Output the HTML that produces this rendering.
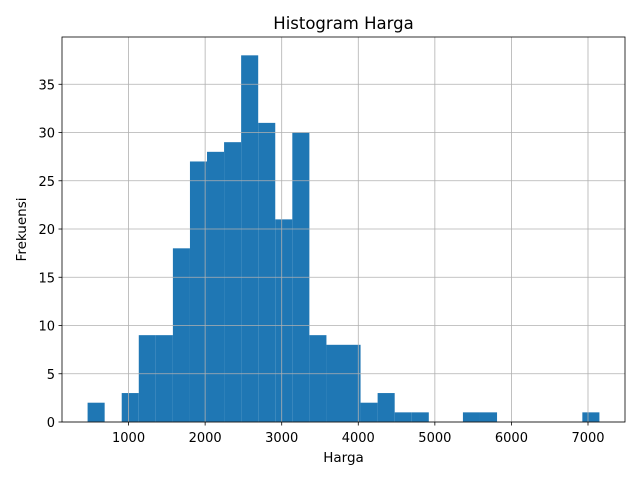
<!DOCTYPE html>
<html><head><meta charset="utf-8"><style>
body{margin:0;background:#fff;}
svg text{font-family:"DejaVu Sans","Liberation Sans",sans-serif;fill:#000;}
</style></head><body>
<svg id="chart" width="640" height="480" xmlns="http://www.w3.org/2000/svg">
<rect width="640" height="480" fill="#fff"/>
<g id="bars"></g>
<g id="grid"></g>
<g id="axes"></g>
<text x="343.5" y="29" font-size="16.5" text-anchor="middle">Histogram Harga</text>
<text x="343.5" y="462" font-size="13.5" text-anchor="middle">Harga</text>
<text x="26" y="229.5" font-size="13.5" text-anchor="middle" transform="rotate(-90 26 229.5)">Frekuensi</text>
</svg>
<script>
const binStart = 465;
const binWidth = 222.8;
const counts = [2,0,3,9,9,18,27,28,29,38,31,21,30,9,8,8,2,3,1,1,0,0,1,1,0,0,0,0,0,1];
const xTicks = [1000,2000,3000,4000,5000,6000,7000];
const yTicks = [0,5,10,15,20,25,30,35];

const L=62,R=625,T=37,B=422;
const xmin=binStart-0.05*binWidth*counts.length, xmax=binStart+1.05*binWidth*counts.length;
const ymax=Math.max(...counts)*1.05;
const xs=v=>L+(v-xmin)/(xmax-xmin)*(R-L);
const ys=v=>B-v/ymax*(B-T);
const NS="http://www.w3.org/2000/svg";
function mk(tag,attrs,parent){const e=document.createElementNS(NS,tag);for(const k in attrs)e.setAttribute(k,attrs[k]);parent.appendChild(e);return e;}
const bars=document.getElementById('bars'),grid=document.getElementById('grid'),axes=document.getElementById('axes');
counts.forEach((c,i)=>{
  if(c<=0)return;
  const x0=xs(binStart+i*binWidth),x1=xs(binStart+(i+1)*binWidth);
  const r=mk('rect',{x:x0,y:ys(c),width:x1-x0,height:B-ys(c),fill:'#1f77b4'},bars);
  
  
});
xTicks.forEach(t=>{
  const x=xs(t);
  const g=mk('line',{x1:x,x2:x,y1:T,y2:B,stroke:'#b0b0b0','stroke-width':0.8},grid);
  
  
  mk('line',{x1:x,x2:x,y1:B,y2:B+3.5,stroke:'#000','stroke-width':0.8},axes);
  const tx=mk('text',{x:x,y:B+20,'font-size':13,'text-anchor':'middle'},axes);
  tx.textContent=t;
  
  
});
yTicks.forEach(t=>{
  const y=ys(t);
  const g=mk('line',{x1:L,x2:R,y1:y,y2:y,stroke:'#b0b0b0','stroke-width':0.8},grid);
  
  
  mk('line',{x1:L-3.5,x2:L,y1:y,y2:y,stroke:'#000','stroke-width':0.8},axes);
  const tx=mk('text',{x:L-7,y:y+5,'font-size':13,'text-anchor':'end'},axes);
  tx.textContent=t;
  
  
});
const fr=mk('rect',{x:L,y:T,width:R-L,height:B-T,fill:'none',stroke:'#000','stroke-width':0.8},axes);


</script>
</body></html>
